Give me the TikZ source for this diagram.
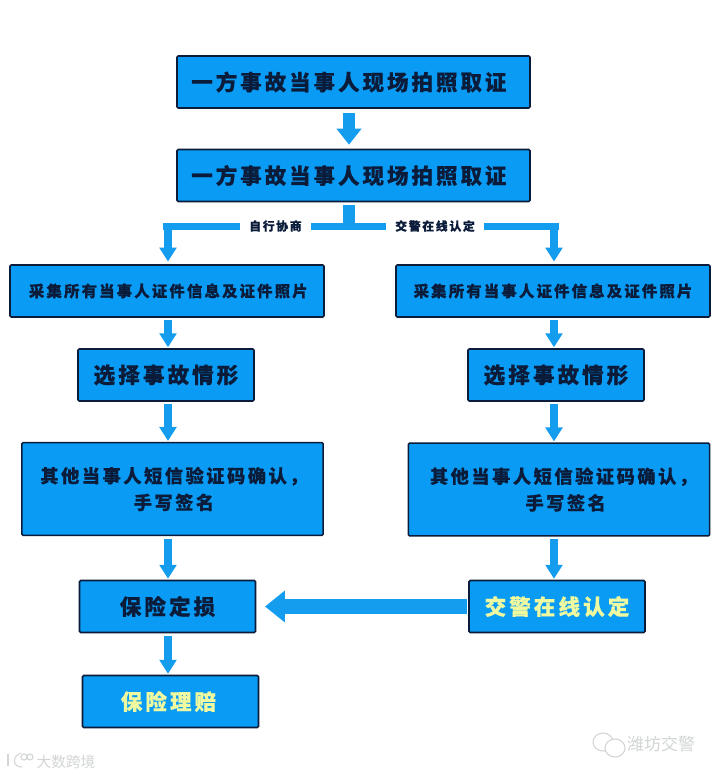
\documentclass[tikz,border=0pt]{standalone}
\usepackage{fontspec}
\usetikzlibrary{arrows.meta,calc}
\newfontfamily\cjk[LetterSpace=14,BoldFeatures={FakeBold=0.5}]{Noto Sans CJK SC}
\newfontfamily\cjkmark{Noto Sans CJK SC}
\definecolor{fg}{HTML}{0B1B3A}
\definecolor{boxfill}{HTML}{0A9CF5}
\definecolor{arr}{HTML}{149CEF}
\definecolor{lite}{HTML}{EEF9A0}
\definecolor{wmgray}{HTML}{D2D5D6}
\tikzset{
  every node/.style={text=fg},
  % Kästen
  stepbox/.style={draw=fg, fill=boxfill, line width=1.2pt, rounded corners=1pt, inner sep=0pt,
    align=center, font=\cjk\bfseries},
  wide/.style={stepbox, minimum width=264.75pt, minimum height=39pt, font=\cjk\bfseries\fontsize{16.1}{22}\selectfont},
  info/.style={stepbox, minimum width=235.5pt, minimum height=39pt, font=\cjk\bfseries\fontsize{11.55}{15}\selectfont},
  pick/.style={stepbox, minimum width=132pt, minimum height=39pt, font=\cjk\bfseries\fontsize{16.2}{20}\selectfont},
  sms/.style={stepbox, minimum width=226pt, minimum height=69.5pt, font=\cjk\bfseries\fontsize{13.65}{20}\selectfont},
  % Pfeile
  flow/.style={draw=arr, line width=6.5pt, shorten <=2pt, shorten >=0.7pt,
    -{Triangle[length=10.5pt,width=12.5pt]}},
  flowbig/.style={draw=arr, line width=9pt, shorten <=3.5pt, shorten >=3pt,
    -{Triangle[length=12pt,width=18pt]}},
  flowwide/.style={draw=arr, line width=11.25pt, shorten <=1pt, shorten >=6.5pt,
    -{Triangle[length=15pt,width=23pt]}},
  bar/.style={draw=arr, line width=5pt},
  % Beschriftung mit Aussparung
  lbl/.style={fill=white, inner xsep=7pt, inner ysep=2pt, font=\cjk\bfseries\fontsize{8.9}{10}\selectfont},
  wm/.style={text=wmgray, font=\cjkmark\fontsize{12.75}{15}\selectfont},
  wmline/.style={draw=wmgray, line width=0.8pt},
}
\begin{document}
\begin{tikzpicture}[x=0.75pt, y=-0.75pt]
  \useasboundingbox[fill=white] (0,0) rectangle (720,776);
  % obere Kästen
  \node[wide] (first) at (353.5,82) {一方事故当事人现场拍照取证\kern7pt};
  \node[wide] (second) at (353.5,175.5) {一方事故当事人现场拍照取证\kern7pt};
  % linker Zweig
  \node[info] (infoL) at (167,291) {\kern2pt采集所有当事人证件信息及证件照片};
  \node[pick] (pickL) at (166,375) {选择事故情形};
  \node[sms] (smsL) at (172.5,489) {\kern2.2pt其他当事人短信验证码确认，\\\kern2.2pt手写签名};
  \node[pick] (lossL) at (167.5,606.5) {保险定损};
  \node[pick] (payL) at (170.5,701.5) {\textcolor{lite}{保险理赔}\kern3pt};
  % rechter Zweig
  \node[info] (infoR) at (553,291) {采集所有当事人证件信息及证件照片};
  \node[pick] (pickR) at (556,375) {选择事故情形};
  \node[sms] (smsR) at (559,489.5) {\kern6.8pt其他当事人短信验证码确认，\\\kern10pt手写签名};
  \node[pick] (onlineR) at (557,606.5) {\textcolor{lite}{交警在线认定}};
  % Verzweigung
  \coordinate (midline) at (349,226.5);
  \coordinate (cornerL) at (168,226.5);
  \coordinate (cornerR) at (554,226.5);
  \draw[flowbig] (first.south -| midline) -- (second.north -| midline);
  \draw[draw=arr, line width=9pt, shorten <=2pt] (second.south -| midline) -- (midline);
  \draw[bar] ($(cornerL)+(-5,0)$) -- ($(cornerR)+(5,0)$);
  \draw[flow, shorten <=-2pt, shorten >=2pt] (cornerL) -- (cornerL |- infoL.north);
  \draw[flow, shorten <=-2pt, shorten >=2pt] (cornerR) -- (cornerR |- infoR.north);
  \node[lbl] (selfTalk) at (275.5,226) {自行协商};
  \node[lbl] (policeTag) at (435,226) {交警在线认定};
  % Pfeile links
  \draw[flow] (infoL.south -| cornerL) -- (cornerL |- pickL.north);
  \draw[flow] (cornerL |- pickL.south) -- (cornerL |- smsL.north);
  \draw[flow] (cornerL |- smsL.south) -- (cornerL |- lossL.north);
  \draw[flow] (cornerL |- lossL.south) -- (cornerL |- payL.north);
  % Pfeile rechts
  \draw[flow] (infoR.south -| cornerR) -- (cornerR |- pickR.north);
  \draw[flow] (cornerR |- pickR.south) -- (cornerR |- smsR.north);
  \draw[flow] (cornerR |- smsR.south) -- (cornerR |- onlineR.north);
  \draw[flowwide] (onlineR.west) -- (lossL.east);
  % Wasserzeichen
  \node[wm] (markR) at (661,744) {潍坊交警};
  \node[wm, font=\cjkmark\fontsize{11}{13}\selectfont] (markL) at (66,761.5) {大数跨境};
  \draw[wmline] (603,742) ellipse (10 and 9);
  \draw[wmline, fill=white] (615,748) ellipse (10 and 9);
  \draw[wmline] (8,754) -- (8,766);
  \draw[wmline] (21,753) .. controls (12,756) and (12,767) .. (22,767);
  \draw[wmline] (24,757) circle (3) (30,757) circle (3);
\end{tikzpicture}
\end{document}
